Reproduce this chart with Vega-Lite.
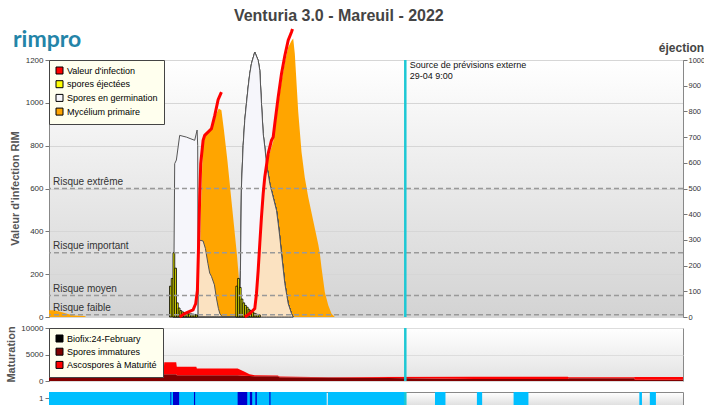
{
  "$schema": "https://vega.github.io/schema/vega-lite/v6.json",
  "padding": {"left": 4, "top": 8, "right": 2, "bottom": 2},
  "background": "#ffffff",
  "title": {"text": "Venturia 3.0 - Mareuil - 2022", "fontSize": 16, "fontWeight": "bold", "color": "#444444", "anchor": "middle", "dx": -16, "dy": 15, "offset": 0, "baseline": "alphabetic", "font": "Liberation Sans"},
  "config": {
    "font": "Liberation Sans",
    "axis": {"labelFontSize": 8, "labelColor": "#333333", "tickColor": "#777777", "domainColor": "#888888", "titleFontSize": 11, "titleFontWeight": "bold", "titleColor": "#555555", "tickSize": 4, "labelPadding": 2},
    "legend": {"labelFontSize": 9, "labelColor": "#000000", "labelFont": "Liberation Sans"}
  },
  "datasets": {
    "curves": [
      {"t": "2022-04-20 21:00", "v": 31, "s": "Mycélium primaire", "g": 1},
      {"t": "2022-04-21 00:10", "v": 31, "s": "Mycélium primaire", "g": 1},
      {"t": "2022-04-21 04:00", "v": 23, "s": "Mycélium primaire", "g": 1},
      {"t": "2022-04-21 07:50", "v": 14, "s": "Mycélium primaire", "g": 1},
      {"t": "2022-04-21 11:40", "v": 7, "s": "Mycélium primaire", "g": 1},
      {"t": "2022-04-21 17:20", "v": 5, "s": "Mycélium primaire", "g": 1},
      {"t": "2022-04-21 18:20", "v": 0, "s": "Mycélium primaire", "g": 1},
      {"t": "2022-04-24 10:50", "v": 0, "s": "Mycélium primaire", "g": 1},
      {"t": "2022-04-24 11:58", "v": 500, "s": "Mycélium primaire", "g": 1},
      {"t": "2022-04-24 13:14", "v": 840, "s": "Mycélium primaire", "g": 1},
      {"t": "2022-04-24 14:09", "v": 856, "s": "Mycélium primaire", "g": 1},
      {"t": "2022-04-24 18:00", "v": 887, "s": "Mycélium primaire", "g": 1},
      {"t": "2022-04-24 20:52", "v": 949, "s": "Mycélium primaire", "g": 1},
      {"t": "2022-04-24 22:11", "v": 973, "s": "Mycélium primaire", "g": 1},
      {"t": "2022-04-24 23:43", "v": 965, "s": "Mycélium primaire", "g": 1},
      {"t": "2022-04-25 01:10", "v": 872, "s": "Mycélium primaire", "g": 1},
      {"t": "2022-04-25 03:10", "v": 730, "s": "Mycélium primaire", "g": 1},
      {"t": "2022-04-25 04:53", "v": 590, "s": "Mycélium primaire", "g": 1},
      {"t": "2022-04-25 06:53", "v": 430, "s": "Mycélium primaire", "g": 1},
      {"t": "2022-04-25 08:37", "v": 290, "s": "Mycélium primaire", "g": 1},
      {"t": "2022-04-25 10:02", "v": 150, "s": "Mycélium primaire", "g": 1},
      {"t": "2022-04-25 11:11", "v": 50, "s": "Mycélium primaire", "g": 1},
      {"t": "2022-04-25 12:20", "v": 5, "s": "Mycélium primaire", "g": 1},
      {"t": "2022-04-25 13:05", "v": 0, "s": "Mycélium primaire", "g": 1},
      {"t": "2022-04-25 18:49", "v": 30, "s": "Mycélium primaire", "g": 1},
      {"t": "2022-04-25 20:46", "v": 200, "s": "Mycélium primaire", "g": 1},
      {"t": "2022-04-25 22:39", "v": 440, "s": "Mycélium primaire", "g": 1},
      {"t": "2022-04-26 00:33", "v": 630, "s": "Mycélium primaire", "g": 1},
      {"t": "2022-04-26 02:30", "v": 740, "s": "Mycélium primaire", "g": 1},
      {"t": "2022-04-26 05:21", "v": 820, "s": "Mycélium primaire", "g": 1},
      {"t": "2022-04-26 08:14", "v": 990, "s": "Mycélium primaire", "g": 1},
      {"t": "2022-04-26 10:07", "v": 1100, "s": "Mycélium primaire", "g": 1},
      {"t": "2022-04-26 12:01", "v": 1190, "s": "Mycélium primaire", "g": 1},
      {"t": "2022-04-26 13:58", "v": 1260, "s": "Mycélium primaire", "g": 1},
      {"t": "2022-04-26 15:51", "v": 1290, "s": "Mycélium primaire", "g": 1},
      {"t": "2022-04-26 16:49", "v": 1300, "s": "Mycélium primaire", "g": 1},
      {"t": "2022-04-26 17:44", "v": 1230, "s": "Mycélium primaire", "g": 1},
      {"t": "2022-04-26 19:41", "v": 960, "s": "Mycélium primaire", "g": 1},
      {"t": "2022-04-26 21:35", "v": 770, "s": "Mycélium primaire", "g": 1},
      {"t": "2022-04-26 23:28", "v": 650, "s": "Mycélium primaire", "g": 1},
      {"t": "2022-04-27 01:25", "v": 560, "s": "Mycélium primaire", "g": 1},
      {"t": "2022-04-27 04:17", "v": 450, "s": "Mycélium primaire", "g": 1},
      {"t": "2022-04-27 07:09", "v": 340, "s": "Mycélium primaire", "g": 1},
      {"t": "2022-04-27 08:05", "v": 296, "s": "Mycélium primaire", "g": 1},
      {"t": "2022-04-27 09:02", "v": 230, "s": "Mycélium primaire", "g": 1},
      {"t": "2022-04-27 10:56", "v": 115, "s": "Mycélium primaire", "g": 1},
      {"t": "2022-04-27 12:53", "v": 55, "s": "Mycélium primaire", "g": 1},
      {"t": "2022-04-27 14:47", "v": 15, "s": "Mycélium primaire", "g": 1},
      {"t": "2022-04-27 16:40", "v": 0, "s": "Mycélium primaire", "g": 1},
      {"t": "2022-04-23 20:02", "v": 0, "s": "Spores en germination", "g": 1},
      {"t": "2022-04-23 20:36", "v": 313, "s": "Spores en germination", "g": 1},
      {"t": "2022-04-23 20:58", "v": 716, "s": "Spores en germination", "g": 1},
      {"t": "2022-04-23 21:56", "v": 733, "s": "Spores en germination", "g": 1},
      {"t": "2022-04-23 23:49", "v": 848, "s": "Spores en germination", "g": 1},
      {"t": "2022-04-24 03:40", "v": 840, "s": "Spores en germination", "g": 1},
      {"t": "2022-04-24 08:25", "v": 825, "s": "Spores en germination", "g": 1},
      {"t": "2022-04-24 09:48", "v": 873, "s": "Spores en germination", "g": 1},
      {"t": "2022-04-24 10:08", "v": 800, "s": "Spores en germination", "g": 1},
      {"t": "2022-04-24 10:22", "v": 0, "s": "Spores en germination", "g": 1},
      {"t": "2022-04-25 10:13", "v": 0, "s": "Spores en germination", "g": 2},
      {"t": "2022-04-25 10:37", "v": 218, "s": "Spores en germination", "g": 2},
      {"t": "2022-04-25 11:11", "v": 607, "s": "Spores en germination", "g": 2},
      {"t": "2022-04-25 12:10", "v": 800, "s": "Spores en germination", "g": 2},
      {"t": "2022-04-25 13:05", "v": 918, "s": "Spores en germination", "g": 2},
      {"t": "2022-04-25 14:03", "v": 996, "s": "Spores en germination", "g": 2},
      {"t": "2022-04-25 15:02", "v": 1074, "s": "Spores en germination", "g": 2},
      {"t": "2022-04-25 15:57", "v": 1136, "s": "Spores en germination", "g": 2},
      {"t": "2022-04-25 16:55", "v": 1183, "s": "Spores en germination", "g": 2},
      {"t": "2022-04-25 18:49", "v": 1237, "s": "Spores en germination", "g": 2},
      {"t": "2022-04-25 20:46", "v": 1198, "s": "Spores en germination", "g": 2},
      {"t": "2022-04-25 21:41", "v": 1152, "s": "Spores en germination", "g": 2},
      {"t": "2022-04-25 22:39", "v": 996, "s": "Spores en germination", "g": 2},
      {"t": "2022-04-25 23:38", "v": 856, "s": "Spores en germination", "g": 2},
      {"t": "2022-04-26 00:33", "v": 794, "s": "Spores en germination", "g": 2},
      {"t": "2022-04-26 01:32", "v": 716, "s": "Spores en germination", "g": 2},
      {"t": "2022-04-26 03:25", "v": 623, "s": "Spores en germination", "g": 2},
      {"t": "2022-04-26 05:21", "v": 560, "s": "Spores en germination", "g": 2},
      {"t": "2022-04-26 07:15", "v": 498, "s": "Spores en germination", "g": 2},
      {"t": "2022-04-26 08:14", "v": 436, "s": "Spores en germination", "g": 2},
      {"t": "2022-04-26 09:08", "v": 374, "s": "Spores en germination", "g": 2},
      {"t": "2022-04-26 10:07", "v": 296, "s": "Spores en germination", "g": 2},
      {"t": "2022-04-26 12:01", "v": 156, "s": "Spores en germination", "g": 2},
      {"t": "2022-04-26 13:58", "v": 62, "s": "Spores en germination", "g": 2},
      {"t": "2022-04-26 15:51", "v": 16, "s": "Spores en germination", "g": 2},
      {"t": "2022-04-26 16:49", "v": 0, "s": "Spores en germination", "g": 2},
      {"t": "2022-04-24 10:22", "v": 0, "s": "Germination infectante", "g": 1},
      {"t": "2022-04-24 10:32", "v": 360, "s": "Germination infectante", "g": 1},
      {"t": "2022-04-24 13:14", "v": 355, "s": "Germination infectante", "g": 1},
      {"t": "2022-04-24 14:33", "v": 320, "s": "Germination infectante", "g": 1},
      {"t": "2022-04-24 15:59", "v": 250, "s": "Germination infectante", "g": 1},
      {"t": "2022-04-24 17:01", "v": 205, "s": "Germination infectante", "g": 1},
      {"t": "2022-04-24 18:00", "v": 190, "s": "Germination infectante", "g": 1},
      {"t": "2022-04-24 19:43", "v": 150, "s": "Germination infectante", "g": 1},
      {"t": "2022-04-24 20:52", "v": 88, "s": "Germination infectante", "g": 1},
      {"t": "2022-04-24 22:00", "v": 40, "s": "Germination infectante", "g": 1},
      {"t": "2022-04-24 22:52", "v": 15, "s": "Germination infectante", "g": 1},
      {"t": "2022-04-25 00:18", "v": 0, "s": "Germination infectante", "g": 1},
      {"t": "2022-04-25 13:05", "v": 0, "s": "Germination infectante", "g": 2},
      {"t": "2022-04-25 15:57", "v": 16, "s": "Germination infectante", "g": 2},
      {"t": "2022-04-25 18:49", "v": 39, "s": "Germination infectante", "g": 2},
      {"t": "2022-04-25 19:47", "v": 109, "s": "Germination infectante", "g": 2},
      {"t": "2022-04-25 20:46", "v": 218, "s": "Germination infectante", "g": 2},
      {"t": "2022-04-25 21:41", "v": 342, "s": "Germination infectante", "g": 2},
      {"t": "2022-04-25 22:39", "v": 467, "s": "Germination infectante", "g": 2},
      {"t": "2022-04-25 23:38", "v": 576, "s": "Germination infectante", "g": 2},
      {"t": "2022-04-26 00:33", "v": 654, "s": "Germination infectante", "g": 2},
      {"t": "2022-04-26 01:32", "v": 705, "s": "Germination infectante", "g": 2},
      {"t": "2022-04-26 02:30", "v": 670, "s": "Germination infectante", "g": 2},
      {"t": "2022-04-26 03:25", "v": 623, "s": "Germination infectante", "g": 2},
      {"t": "2022-04-26 05:21", "v": 560, "s": "Germination infectante", "g": 2},
      {"t": "2022-04-26 07:15", "v": 498, "s": "Germination infectante", "g": 2},
      {"t": "2022-04-26 08:14", "v": 436, "s": "Germination infectante", "g": 2},
      {"t": "2022-04-26 09:08", "v": 374, "s": "Germination infectante", "g": 2},
      {"t": "2022-04-26 10:07", "v": 296, "s": "Germination infectante", "g": 2},
      {"t": "2022-04-26 12:01", "v": 156, "s": "Germination infectante", "g": 2},
      {"t": "2022-04-26 13:58", "v": 62, "s": "Germination infectante", "g": 2},
      {"t": "2022-04-26 15:51", "v": 16, "s": "Germination infectante", "g": 2},
      {"t": "2022-04-26 16:49", "v": 0, "s": "Germination infectante", "g": 2},
      {"t": "2022-04-23 23:49", "v": 0, "s": "Valeur d'infection", "g": 1},
      {"t": "2022-04-24 02:41", "v": 16, "s": "Valeur d'infection", "g": 1},
      {"t": "2022-04-24 07:30", "v": 33, "s": "Valeur d'infection", "g": 1},
      {"t": "2022-04-24 08:59", "v": 62, "s": "Valeur d'infection", "g": 1},
      {"t": "2022-04-24 09:58", "v": 124, "s": "Valeur d'infection", "g": 1},
      {"t": "2022-04-24 10:32", "v": 300, "s": "Valeur d'infection", "g": 1},
      {"t": "2022-04-24 11:17", "v": 560, "s": "Valeur d'infection", "g": 1},
      {"t": "2022-04-24 11:52", "v": 716, "s": "Valeur d'infection", "g": 1},
      {"t": "2022-04-24 13:14", "v": 825, "s": "Valeur d'infection", "g": 1},
      {"t": "2022-04-24 14:09", "v": 848, "s": "Valeur d'infection", "g": 1},
      {"t": "2022-04-24 18:00", "v": 879, "s": "Valeur d'infection", "g": 1},
      {"t": "2022-04-24 19:53", "v": 940, "s": "Valeur d'infection", "g": 1},
      {"t": "2022-04-24 21:50", "v": 1015, "s": "Valeur d'infection", "g": 1},
      {"t": "2022-04-24 23:43", "v": 1050, "s": "Valeur d'infection", "g": 1},
      {"t": "2022-04-25 13:05", "v": 0, "s": "Valeur d'infection", "g": 2},
      {"t": "2022-04-25 15:57", "v": 16, "s": "Valeur d'infection", "g": 2},
      {"t": "2022-04-25 18:49", "v": 39, "s": "Valeur d'infection", "g": 2},
      {"t": "2022-04-25 19:47", "v": 109, "s": "Valeur d'infection", "g": 2},
      {"t": "2022-04-25 20:46", "v": 218, "s": "Valeur d'infection", "g": 2},
      {"t": "2022-04-25 21:41", "v": 342, "s": "Valeur d'infection", "g": 2},
      {"t": "2022-04-25 22:39", "v": 467, "s": "Valeur d'infection", "g": 2},
      {"t": "2022-04-25 23:38", "v": 576, "s": "Valeur d'infection", "g": 2},
      {"t": "2022-04-26 00:33", "v": 654, "s": "Valeur d'infection", "g": 2},
      {"t": "2022-04-26 02:30", "v": 763, "s": "Valeur d'infection", "g": 2},
      {"t": "2022-04-26 04:23", "v": 825, "s": "Valeur d'infection", "g": 2},
      {"t": "2022-04-26 05:21", "v": 840, "s": "Valeur d'infection", "g": 2},
      {"t": "2022-04-26 06:17", "v": 903, "s": "Valeur d'infection", "g": 2},
      {"t": "2022-04-26 08:14", "v": 1027, "s": "Valeur d'infection", "g": 2},
      {"t": "2022-04-26 10:07", "v": 1136, "s": "Valeur d'infection", "g": 2},
      {"t": "2022-04-26 12:01", "v": 1220, "s": "Valeur d'infection", "g": 2},
      {"t": "2022-04-26 13:58", "v": 1292, "s": "Valeur d'infection", "g": 2},
      {"t": "2022-04-26 15:51", "v": 1331, "s": "Valeur d'infection", "g": 2},
      {"t": "2022-04-26 16:25", "v": 1345, "s": "Valeur d'infection", "g": 2}
    ],
    "bars": [
      {"t": "2022-04-23 18:00", "t2": "2022-04-23 19:00", "n": 120},
      {"t": "2022-04-23 19:00", "t2": "2022-04-23 20:00", "n": 150},
      {"t": "2022-04-23 20:00", "t2": "2022-04-23 21:00", "n": 250},
      {"t": "2022-04-23 21:00", "t2": "2022-04-23 22:00", "n": 190},
      {"t": "2022-04-23 22:00", "t2": "2022-04-23 23:00", "n": 55},
      {"t": "2022-04-23 23:00", "t2": "2022-04-24 00:00", "n": 35},
      {"t": "2022-04-24 00:00", "t2": "2022-04-24 01:00", "n": 25},
      {"t": "2022-04-24 01:00", "t2": "2022-04-24 02:00", "n": 20},
      {"t": "2022-04-24 02:00", "t2": "2022-04-24 03:00", "n": 16},
      {"t": "2022-04-24 03:00", "t2": "2022-04-24 04:00", "n": 14},
      {"t": "2022-04-24 04:00", "t2": "2022-04-24 05:00", "n": 13},
      {"t": "2022-04-24 05:00", "t2": "2022-04-24 06:00", "n": 12},
      {"t": "2022-04-24 06:00", "t2": "2022-04-24 07:00", "n": 12},
      {"t": "2022-04-24 07:00", "t2": "2022-04-24 08:00", "n": 11},
      {"t": "2022-04-24 08:00", "t2": "2022-04-24 09:00", "n": 10},
      {"t": "2022-04-24 09:00", "t2": "2022-04-24 10:00", "n": 8},
      {"t": "2022-04-25 08:00", "t2": "2022-04-25 09:00", "n": 120},
      {"t": "2022-04-25 09:00", "t2": "2022-04-25 10:00", "n": 150},
      {"t": "2022-04-25 10:00", "t2": "2022-04-25 11:00", "n": 115},
      {"t": "2022-04-25 11:00", "t2": "2022-04-25 12:00", "n": 70},
      {"t": "2022-04-25 12:00", "t2": "2022-04-25 13:00", "n": 55},
      {"t": "2022-04-25 13:00", "t2": "2022-04-25 14:00", "n": 45},
      {"t": "2022-04-25 14:00", "t2": "2022-04-25 15:00", "n": 38},
      {"t": "2022-04-25 15:00", "t2": "2022-04-25 16:00", "n": 30},
      {"t": "2022-04-25 16:00", "t2": "2022-04-25 17:00", "n": 25},
      {"t": "2022-04-25 17:00", "t2": "2022-04-25 18:00", "n": 20},
      {"t": "2022-04-25 18:00", "t2": "2022-04-25 19:00", "n": 15},
      {"t": "2022-04-25 19:00", "t2": "2022-04-25 20:00", "n": 12},
      {"t": "2022-04-25 20:00", "t2": "2022-04-25 21:00", "n": 10},
      {"t": "2022-04-25 21:00", "t2": "2022-04-25 22:00", "n": 8}
    ],
    "risks": [
      {"r": "Risque extrême", "v": 600},
      {"r": "Risque important", "v": 300},
      {"r": "Risque moyen", "v": 100},
      {"r": "Risque faible", "v": 10}
    ],
    "source": [
      {"t": "2022-04-29 09:00", "label": "Source de prévisions externe\n29-04 9:00"}
    ],
    "logo": [
      {"t": "2022-04-20 21:00", "v": 1200, "label": "rimpro"}
    ],
    "mat": [
      {"t": "2022-04-20 21:00", "k": "Spores immatures", "v": 1290},
      {"t": "2022-04-23 14:30", "k": "Spores immatures", "v": 1290},
      {"t": "2022-04-23 15:00", "k": "Spores immatures", "v": 1290},
      {"t": "2022-04-23 21:50", "k": "Spores immatures", "v": 1290},
      {"t": "2022-04-23 22:10", "k": "Spores immatures", "v": 1090},
      {"t": "2022-04-24 09:20", "k": "Spores immatures", "v": 1090},
      {"t": "2022-04-24 09:40", "k": "Spores immatures", "v": 1090},
      {"t": "2022-04-25 09:00", "k": "Spores immatures", "v": 1090},
      {"t": "2022-04-25 13:00", "k": "Spores immatures", "v": 1000},
      {"t": "2022-04-25 15:50", "k": "Spores immatures", "v": 950},
      {"t": "2022-04-25 18:50", "k": "Spores immatures", "v": 900},
      {"t": "2022-04-26 08:00", "k": "Spores immatures", "v": 880},
      {"t": "2022-04-26 09:00", "k": "Spores immatures", "v": 700},
      {"t": "2022-04-27 13:00", "k": "Spores immatures", "v": 650},
      {"t": "2022-04-28 12:00", "k": "Spores immatures", "v": 600},
      {"t": "2022-05-01 00:00", "k": "Spores immatures", "v": 400},
      {"t": "2022-05-03 06:00", "k": "Spores immatures", "v": 400},
      {"t": "2022-05-03 06:30", "k": "Spores immatures", "v": 500},
      {"t": "2022-05-04 20:00", "k": "Spores immatures", "v": 500},
      {"t": "2022-05-04 20:30", "k": "Spores immatures", "v": 250},
      {"t": "2022-05-06 00:00", "k": "Spores immatures", "v": 250},
      {"t": "2022-04-20 21:00", "k": "Ascospores à Maturité", "v": 0},
      {"t": "2022-04-23 14:30", "k": "Ascospores à Maturité", "v": 0},
      {"t": "2022-04-23 15:00", "k": "Ascospores à Maturité", "v": 2235},
      {"t": "2022-04-23 21:50", "k": "Ascospores à Maturité", "v": 2235},
      {"t": "2022-04-23 22:10", "k": "Ascospores à Maturité", "v": 1600},
      {"t": "2022-04-24 09:20", "k": "Ascospores à Maturité", "v": 1600},
      {"t": "2022-04-24 09:40", "k": "Ascospores à Maturité", "v": 1275},
      {"t": "2022-04-25 09:00", "k": "Ascospores à Maturité", "v": 1275},
      {"t": "2022-04-25 13:00", "k": "Ascospores à Maturité", "v": 730},
      {"t": "2022-04-25 15:50", "k": "Ascospores à Maturité", "v": 340},
      {"t": "2022-04-25 18:50", "k": "Ascospores à Maturité", "v": 190},
      {"t": "2022-04-26 08:00", "k": "Ascospores à Maturité", "v": 150},
      {"t": "2022-04-26 09:00", "k": "Ascospores à Maturité", "v": 130},
      {"t": "2022-04-27 13:00", "k": "Ascospores à Maturité", "v": 55},
      {"t": "2022-04-28 12:00", "k": "Ascospores à Maturité", "v": 170},
      {"t": "2022-05-01 00:00", "k": "Ascospores à Maturité", "v": 380},
      {"t": "2022-05-03 06:00", "k": "Ascospores à Maturité", "v": 380},
      {"t": "2022-05-03 06:30", "k": "Ascospores à Maturité", "v": 200},
      {"t": "2022-05-04 20:00", "k": "Ascospores à Maturité", "v": 200},
      {"t": "2022-05-04 20:30", "k": "Ascospores à Maturité", "v": 500},
      {"t": "2022-05-06 00:00", "k": "Ascospores à Maturité", "v": 500}
    ],
    "wet": [
      {"t": "2022-04-20 21:00", "t2": "2022-04-27 12:00", "k": "humide"},
      {"t": "2022-04-27 12:40", "t2": "2022-04-29 09:00", "k": "humide"},
      {"t": "2022-04-30 02:00", "t2": "2022-04-30 08:00", "k": "humide"},
      {"t": "2022-05-01 02:00", "t2": "2022-05-01 05:00", "k": "humide"},
      {"t": "2022-05-01 23:00", "t2": "2022-05-02 07:30", "k": "humide"},
      {"t": "2022-05-04 23:00", "t2": "2022-05-05 00:30", "k": "humide"},
      {"t": "2022-05-05 05:00", "t2": "2022-05-05 08:30", "k": "humide"},
      {"t": "2022-04-23 18:30", "t2": "2022-04-23 19:00", "k": "pluie"},
      {"t": "2022-04-23 20:00", "t2": "2022-04-23 23:30", "k": "pluie"},
      {"t": "2022-04-24 08:00", "t2": "2022-04-24 08:40", "k": "pluie"},
      {"t": "2022-04-25 09:00", "t2": "2022-04-25 14:30", "k": "pluie"},
      {"t": "2022-04-25 16:00", "t2": "2022-04-25 17:20", "k": "pluie"},
      {"t": "2022-04-25 19:10", "t2": "2022-04-25 20:00", "k": "pluie"},
      {"t": "2022-04-26 03:10", "t2": "2022-04-26 03:50", "k": "pluie"}
    ]
  },
  "spacing": 11,
  "bounds": "flush",
  "resolve": {"scale": {"y": "independent", "color": "independent"}, "legend": {"color": "independent"}},
  "vconcat": [
    {
      "width": 634,
      "height": 257,
      "view": {"fill": {"gradient": "linear", "x1": 0, "y1": 0, "x2": 0, "y2": 1, "stops": [{"offset": 0, "color": "#ffffff"}, {"offset": 1, "color": "#d3d3d3"}]}, "stroke": "#888888"},
      "layer": [
        {
          "layer": [
            {
              "data": {"name": "curves"},
              "transform": [{"filter": "datum.s === 'Mycélium primaire'"}],
              "mark": {"type": "area", "interpolate": "linear"},
              "encoding": {
                "x": {"field": "t", "type": "temporal", "scale": {"domain": [{"year": 2022, "month": 4, "date": 20, "hours": 21}, {"year": 2022, "month": 5, "date": 6}]}, "axis": null},
                "y": {"field": "v", "type": "quantitative", "scale": {"domain": [0, 1200], "nice": false}, "axis": {"values": [0, 100, 200, 300, 400, 500, 600, 700, 800, 900, 1000, 1100, 1200], "format": "d", "title": "Valeur d'infection RIM", "titleX": -34, "titleY": 128, "titleBaseline": "middle", "grid": true, "gridColor": "#d6d6d6"}},
                "color": {"field": "s", "type": "nominal", "scale": {"domain": ["Valeur d'infection", "spores éjectées", "Spores en germination", "Mycélium primaire"], "range": ["#ff0000", "#ffff00", "#f8f8fc", "#ffa500"]}, "legend": {"title": null, "orient": "top-left", "offset": 0, "padding": 6, "fillColor": "#ffffee", "strokeColor": "#444444", "symbolType": "square", "symbolSize": 49, "labelFontSize": 9, "rowPadding": 2.7, "labelOffset": 3, "encode": {"symbols": {"update": {"stroke": {"value": "#000000"}, "strokeWidth": {"value": 1}, "opacity": {"value": 1}}}}}}
              }
            },
            {
              "data": {"name": "curves"},
              "transform": [{"filter": "datum.s === 'Spores en germination'"}],
              "mark": {"type": "area", "fill": "#f6f6fb", "stroke": "#555555", "strokeWidth": 1},
              "encoding": {
                "x": {"field": "t", "type": "temporal", "scale": {"domain": [{"year": 2022, "month": 4, "date": 20, "hours": 21}, {"year": 2022, "month": 5, "date": 6}]}, "axis": null},
                "y": {"field": "v", "type": "quantitative", "scale": {"domain": [0, 1200], "nice": false}},
                "detail": {"field": "g", "type": "nominal"}
              }
            },
            {
              "data": {"name": "curves"},
              "transform": [{"filter": "datum.s === 'Germination infectante'"}],
              "mark": {"type": "area", "fill": "#fbe2c1", "stroke": "#555555", "strokeWidth": 1},
              "encoding": {
                "x": {"field": "t", "type": "temporal", "scale": {"domain": [{"year": 2022, "month": 4, "date": 20, "hours": 21}, {"year": 2022, "month": 5, "date": 6}]}, "axis": null},
                "y": {"field": "v", "type": "quantitative", "scale": {"domain": [0, 1200], "nice": false}},
                "detail": {"field": "g", "type": "nominal"}
              }
            }
          ]
        },
        {
          "data": {"name": "bars"},
          "mark": {"type": "rect", "fill": "#ffff00", "stroke": "#000000", "strokeWidth": 0.8},
          "encoding": {
            "x": {"field": "t", "type": "temporal", "scale": {"domain": [{"year": 2022, "month": 4, "date": 20, "hours": 21}, {"year": 2022, "month": 5, "date": 6}]}, "axis": null},
            "x2": {"field": "t2"},
            "y": {"field": "n", "type": "quantitative", "scale": {"domain": [0, 1000], "nice": false}, "axis": {"orient": "right", "values": [0, 100, 200, 300, 400, 500, 600, 700, 800, 900, 1000], "format": "d", "title": "éjection", "titleFontSize": 12, "titleAngle": 0, "titleX": -2, "titleY": -13, "titleAlign": "center", "titleBaseline": "middle", "titleColor": "#444444", "grid": false, "labelFontSize": 7.5, "labelPadding": 1}},
            "y2": {"datum": 0}
          }
        },
        {
          "layer": [
            {
              "data": {"name": "risks"},
              "mark": {"type": "rule", "stroke": "#999999", "strokeWidth": 1.5, "strokeDash": [5, 3]},
              "encoding": {
                "y": {"field": "v", "type": "quantitative", "scale": {"domain": [0, 1200], "nice": false}, "axis": null}
              }
            },
            {
              "data": {"name": "risks"},
              "mark": {"type": "text", "align": "left", "baseline": "alphabetic", "dx": 4, "dy": -4, "fontSize": 10, "color": "#333333"},
              "encoding": {
                "x": {"datum": {"year": 2022, "month": 4, "date": 20, "hours": 21}, "type": "temporal", "scale": {"domain": [{"year": 2022, "month": 4, "date": 20, "hours": 21}, {"year": 2022, "month": 5, "date": 6}]}, "axis": null},
                "y": {"field": "v", "type": "quantitative", "scale": {"domain": [0, 1200], "nice": false}, "axis": null},
                "text": {"field": "r"}
              }
            },
            {
              "data": {"name": "curves"},
              "transform": [{"filter": "datum.s === \"Valeur d'infection\""}],
              "mark": {"type": "line", "color": "#ff0000", "strokeWidth": 3},
              "encoding": {
                "x": {"field": "t", "type": "temporal", "scale": {"domain": [{"year": 2022, "month": 4, "date": 20, "hours": 21}, {"year": 2022, "month": 5, "date": 6}]}, "axis": null},
                "y": {"field": "v", "type": "quantitative", "scale": {"domain": [0, 1200], "nice": false}, "axis": null},
                "detail": {"field": "g", "type": "nominal"}
              }
            },
            {
              "data": {"name": "source"},
              "mark": {"type": "rule", "color": "#1ec8d4", "strokeWidth": 2.5},
              "encoding": {
                "x": {"field": "t", "type": "temporal", "scale": {"domain": [{"year": 2022, "month": 4, "date": 20, "hours": 21}, {"year": 2022, "month": 5, "date": 6}]}, "axis": null}
              }
            },
            {
              "data": {"name": "source"},
              "mark": {"type": "text", "align": "left", "baseline": "top", "dx": 4.5, "dy": 1, "fontSize": 9, "color": "#111111", "lineBreak": "\n", "lineHeight": 11},
              "encoding": {
                "x": {"field": "t", "type": "temporal", "scale": {"domain": [{"year": 2022, "month": 4, "date": 20, "hours": 21}, {"year": 2022, "month": 5, "date": 6}]}, "axis": null},
                "y": {"datum": 1200, "type": "quantitative", "scale": {"domain": [0, 1200], "nice": false}, "axis": null},
                "text": {"field": "label"}
              }
            },
            {
              "data": {"name": "logo"},
              "mark": {"type": "text", "align": "left", "baseline": "alphabetic", "dx": -36, "dy": -13, "fontSize": 23, "font": "Lato", "fontWeight": "bold", "color": "#2384a8"},
              "encoding": {
                "x": {"field": "t", "type": "temporal", "scale": {"domain": [{"year": 2022, "month": 4, "date": 20, "hours": 21}, {"year": 2022, "month": 5, "date": 6}]}, "axis": null},
                "y": {"field": "v", "type": "quantitative", "scale": {"domain": [0, 1200], "nice": false}, "axis": null},
                "text": {"field": "label"}
              }
            }
          ]
        }
      ],
      "resolve": {"scale": {"y": "independent"}}
    },
    {
      "width": 634,
      "height": 53,
      "view": {"fill": {"gradient": "linear", "x1": 0, "y1": 0, "x2": 0, "y2": 1, "stops": [{"offset": 0, "color": "#ffffff"}, {"offset": 1, "color": "#e2e2e2"}]}, "stroke": "#888888"},
      "layer": [
        {
          "data": {"name": "mat"},
          "mark": {"type": "area", "interpolate": "linear"},
          "encoding": {
            "x": {"field": "t", "type": "temporal", "scale": {"domain": [{"year": 2022, "month": 4, "date": 20, "hours": 21}, {"year": 2022, "month": 5, "date": 6}]}, "axis": null},
            "y": {"field": "v", "type": "quantitative", "stack": "zero", "scale": {"domain": [0, 10000], "nice": false}, "axis": {"values": [0, 5000, 10000], "format": "d", "title": "Maturation", "titleX": -38, "titleY": 26, "titleBaseline": "middle", "grid": true, "gridColor": "#dddddd"}},
            "color": {"field": "k", "type": "nominal", "scale": {"domain": ["Biofix:24-February", "Spores immatures", "Ascospores à Maturité"], "range": ["#000000", "#800000", "#ff0000"]}, "legend": {"title": null, "orient": "top-left", "offset": 0, "padding": 6, "fillColor": "#ffffee", "strokeColor": "#444444", "symbolType": "square", "symbolSize": 49, "labelFontSize": 9, "rowPadding": 2.2, "labelOffset": 3, "encode": {"symbols": {"update": {"stroke": {"value": "#000000"}, "strokeWidth": {"value": 1}, "opacity": {"value": 1}}}}}},
            "order": {"field": "k", "sort": "descending"}
          }
        },
        {
          "data": {"name": "source"},
          "mark": {"type": "rule", "color": "#1ec8d4", "strokeWidth": 2.5},
          "encoding": {
            "x": {"field": "t", "type": "temporal", "scale": {"domain": [{"year": 2022, "month": 4, "date": 20, "hours": 21}, {"year": 2022, "month": 5, "date": 6}]}, "axis": null}
          }
        }
      ]
    },
    {
      "width": 634,
      "height": 16,
      "view": {"fill": {"gradient": "linear", "x1": 0, "y1": 0, "x2": 0, "y2": 1, "stops": [{"offset": 0, "color": "#ffffff"}, {"offset": 1, "color": "#d8d8d8"}]}, "stroke": "#888888"},
      "layer": [
        {
          "data": {"name": "wet"},
          "mark": {"type": "rect"},
          "encoding": {
            "x": {"field": "t", "type": "temporal", "scale": {"domain": [{"year": 2022, "month": 4, "date": 20, "hours": 21}, {"year": 2022, "month": 5, "date": 6}]}, "axis": {"orient": "bottom", "title": null, "tickCount": {"interval": "hour", "step": 12}, "labelExpr": "hours(datum.value) != 0 ? '' : (date(datum.value) == 21 && month(datum.value) == 3) ? 'Apr' : date(datum.value) == 1 ? 'May' : timeFormat(datum.value, '%-d')", "labelFontWeight": "bold", "labelFontSize": 8, "labelColor": "#333333", "tickSize": {"condition": {"test": "hours(datum.value) == 12", "value": 2}, "value": 4}, "labelPadding": 0, "labelOverlap": false, "labelFlush": false, "grid": false}},
            "x2": {"field": "t2"},
            "y": {"datum": 0, "type": "quantitative", "scale": {"domain": [0, 1.6], "nice": false}, "axis": {"values": [0, 1], "title": null, "grid": false}},
            "y2": {"datum": 1.6},
            "color": {"field": "k", "type": "nominal", "scale": {"domain": ["humide", "pluie"], "range": ["#00bfff", "#0000cd"]}, "legend": null}
          }
        },
        {
          "data": {"name": "source"},
          "mark": {"type": "rule", "color": "#1ec8d4", "strokeWidth": 2.5},
          "encoding": {
            "x": {"field": "t", "type": "temporal", "scale": {"domain": [{"year": 2022, "month": 4, "date": 20, "hours": 21}, {"year": 2022, "month": 5, "date": 6}]}, "axis": null}
          }
        }
      ]
    }
  ]
}
